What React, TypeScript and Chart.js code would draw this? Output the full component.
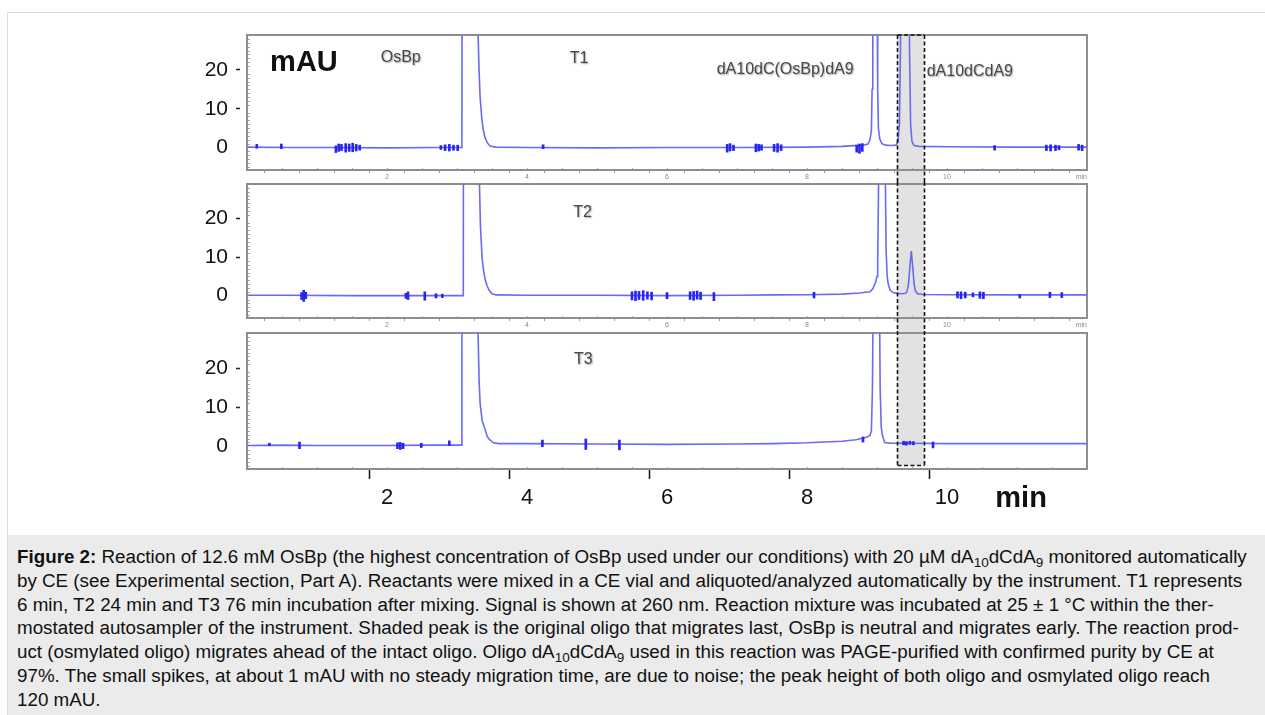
import React, { useEffect, useRef } from 'react';
import { Chart, registerables } from 'chart.js';

Chart.register(...registerables);

// ---------- axes ----------
const X_MIN = 0;
const X_MAX = 12;
const Y_MIN = -5.8;
const Y_MAX = 29;
const Y_TICKS = [0, 10, 20];
const X_TICKS = [0.5, 1, 1.5, 2, 2.5, 3, 3.5, 4, 4.5, 5, 5.5, 6, 6.5, 7, 7.5, 8, 8.5, 9, 9.5, 10, 10.5, 11, 11.5, 12];
const X_MAJOR_TICKS = [2, 4, 6, 8, 10];
const X_END_LABEL = 'min';
const Y_MINOR_TICKS = [-5, -4, -3, -2, -1, 1, 2, 3, 4, 5, 6, 7, 8, 9, 11, 12, 13, 14, 15, 16, 17, 18, 19, 21, 22, 23, 24, 25, 26, 27, 28];

// shaded (intact oligo) window, minutes; bottom in mAU of the last panel
const SHADED_RANGE = [9.29, 9.67];
const SHADED_BOTTOM = -4.9;

// ---------- traces [min, mAU] ----------
const T1_TRACE: [number, number][] = [
  [0, 0.1], [0.6, 0.0], [1.2, 0.0], [2.0, -0.1], [2.7, 0.0], [3.07, 0.0], [3.08, 200], [3.28, 200],
  [3.29, 60], [3.30, 30], [3.315, 20], [3.33, 13], [3.353, 7.7], [3.375, 4.5], [3.40, 2.6], [3.43, 1.3],
  [3.47, 0.4], [3.55, 0.1], [4.0, 0.0], [5.0, -0.1], [6.0, 0.0], [7.0, 0.0], [8.0, 0.1], [8.5, 0.3],
  [8.8, 0.6], [8.87, 0.9], [8.90, 2.0], [8.92, 4.5], [8.93, 15], [8.94, 45], [8.97, 120], [9.0, 45],
  [9.01, 15], [9.02, 5], [9.04, 2.2], [9.07, 1.0], [9.12, 0.6], [9.2, 0.5], [9.27, 0.6], [9.30, 1.5],
  [9.32, 6], [9.335, 25], [9.35, 60], [9.40, 120], [9.45, 60], [9.465, 25], [9.48, 6], [9.50, 1.5],
  [9.53, 0.5], [9.6, 0.3], [10, 0.2], [11, 0.1], [12, 0.1],
];
const T2_TRACE: [number, number][] = [
  [0, 0.1], [0.5, 0.1], [1.5, 0.0], [2.5, 0.0], [3.09, 0.0], [3.10, 200], [3.30, 200], [3.31, 60],
  [3.32, 30], [3.335, 18], [3.36, 9.5], [3.38, 6.5], [3.40, 4.4], [3.43, 2.5], [3.46, 1.4], [3.50, 0.5],
  [3.56, 0.2], [4.0, 0.1], [5.0, 0.1], [6.0, 0.0], [7.0, 0.1], [7.5, 0.2], [8.0, 0.25], [8.5, 0.4],
  [8.75, 0.7], [8.9, 1.0], [8.94, 1.8], [8.98, 3.5], [9.0, 5], [9.01, 9], [9.02, 25], [9.03, 50],
  [9.07, 120], [9.11, 50], [9.12, 30], [9.13, 12], [9.145, 5], [9.16, 3], [9.19, 1.4], [9.23, 0.8],
  [9.28, 0.6], [9.35, 0.5], [9.41, 0.6], [9.43, 1.2], [9.45, 3], [9.47, 7.5], [9.49, 11.6], [9.51, 7.5],
  [9.53, 3], [9.55, 1.2], [9.58, 0.5], [9.65, 0.3], [10, 0.25], [11, 0.2], [12, 0.2],
];
const T3_TRACE: [number, number][] = [
  [0, 0.2], [0.5, 0.3], [1.0, 0.2], [2.0, 0.2], [2.6, 0.3], [3.06, 0.3], [3.07, 200], [3.28, 200],
  [3.29, 60], [3.30, 30], [3.315, 17], [3.33, 11], [3.36, 6.5], [3.40, 4.4], [3.43, 2.6], [3.46, 1.8],
  [3.52, 0.9], [3.6, 0.7], [4.0, 0.7], [5.0, 0.6], [6.0, 0.5], [7.0, 0.6], [7.5, 0.7], [8.0, 0.9],
  [8.5, 1.3], [8.7, 1.7], [8.85, 2.3], [8.9, 2.8], [8.92, 4], [8.935, 15], [8.95, 50], [8.99, 120],
  [9.03, 50], [9.045, 15], [9.06, 5], [9.08, 2.6], [9.11, 1.0], [9.2, 0.8], [9.5, 0.8], [10, 0.7],
  [11, 0.7], [12, 0.7],
];

// ---------- noise spikes [min, low mAU, high mAU] ----------
const T1_NOISE: [number, number, number][] = [
  [0.14, -0.2, 0.8], [0.49, -0.3, 0.9], [1.27, -1.3, 0.4], [1.31, -1.0, 0.9], [1.35, -0.8, 0.8],
  [1.41, -1.2, 1.0], [1.46, -1.0, 0.9], [1.51, -1.1, 1.1], [1.56, -0.9, 0.8], [1.61, -0.7, 0.6],
  [2.77, -0.5, 0.5], [2.83, -0.8, 0.7], [2.89, -0.9, 0.8], [2.95, -0.7, 0.6], [3.01, -0.8, 0.6],
  [4.23, -0.3, 0.7], [6.86, -1.2, 0.8], [6.90, -0.9, 1.0], [6.95, -0.8, 0.6], [7.27, -1.1, 0.9],
  [7.31, -0.9, 0.8], [7.35, -0.7, 0.7], [7.53, -1.0, 0.8], [7.58, -1.2, 1.0], [7.63, -0.8, 0.7],
  [8.71, -1.2, 0.6], [8.75, -1.5, 0.9], [8.79, -1.0, 1.0], [10.68, -0.7, 0.5], [11.42, -0.8, 0.6],
  [11.48, -0.9, 0.7], [11.55, -0.8, 0.6], [11.60, -0.6, 0.5], [11.88, -0.7, 0.8], [11.93, -0.8, 0.6],
];
const T2_NOISE: [number, number, number][] = [
  [0.78, -1.0, 0.8], [0.81, -1.5, 1.4], [0.84, -0.8, 0.9], [2.27, -0.7, 0.6], [2.30, -1.0, 1.0],
  [2.54, -1.2, 1.0], [2.70, -0.6, 0.5], [2.79, -0.5, 0.4], [5.50, -1.1, 1.0], [5.55, -1.3, 1.2],
  [5.60, -1.0, 1.1], [5.66, -1.2, 1.3], [5.72, -0.9, 1.0], [5.78, -1.1, 0.9], [6.00, -0.8, 0.8],
  [6.33, -1.0, 1.0], [6.38, -1.2, 1.1], [6.43, -0.9, 1.2], [6.48, -1.0, 0.9], [6.67, -1.3, 0.8],
  [8.10, -0.6, 0.9], [10.15, -0.6, 1.0], [10.20, -0.8, 1.0], [10.26, -0.6, 0.9], [10.37, -0.3, 0.7],
  [10.47, -0.7, 1.0], [10.52, -0.8, 0.9], [11.04, -0.6, 0.3], [11.47, -0.5, 0.9], [11.64, -0.5, 0.8],
];
const T3_NOISE: [number, number, number][] = [
  [0.32, 0.2, 0.8], [0.75, -0.6, 1.1], [2.15, -0.6, 0.9], [2.19, -0.8, 1.0], [2.23, -0.6, 0.8],
  [2.49, -0.3, 0.8], [2.89, 0.2, 1.4], [4.22, -0.1, 1.6], [4.84, -0.8, 1.9], [5.32, -0.9, 1.6],
  [8.80, 1.1, 2.4], [9.38, 0.4, 1.3], [9.42, 0.3, 1.2], [9.47, 0.5, 1.3], [9.52, 0.4, 1.2], [9.80, -0.4, 1.1],
];

// ---------- in-plot labels [text, min, mAU] ----------
const P1_LABELS: [string, number, number][] = [
  ['OsBp', 1.91, 23.3], ['T1', 4.61, 23.0], ['dA10dC(OsBp)dA9', 6.71, 20.0], ['dA10dCdA9', 9.71, 19.5],
];
const P2_LABELS: [string, number, number][] = [['T2', 4.66, 21.5]];
const P3_LABELS: [string, number, number][] = [['T3', 4.67, 22.3]];
const Y_UNIT: [string, number, number] = ['mAU', 0.33, 21.8];
const X_UNIT: [string, number, number] = ['min', 10.69, -13.6];

const FONT = '"Liberation Sans", Arial, Helvetica, sans-serif';

const panelDecor = {
  id: 'panelDecor',
  beforeDatasetsDraw(chart: any, _args: any, opts: any) {
    const { ctx, chartArea: a, scales } = chart;
    const x = scales.x;
    const y = scales.y;
    const bx1 = x.getPixelForValue(SHADED_RANGE[0]);
    const bx2 = x.getPixelForValue(SHADED_RANGE[1]);
    const top = opts.boxTop ? a.top : 0;
    const bottom = opts.boxBottom ? y.getPixelForValue(SHADED_BOTTOM) : chart.height;
    ctx.save();
    ctx.fillStyle = '#e2e2e2';
    ctx.fillRect(bx1, top, bx2 - bx1, bottom - top);
    // minor ticks
    ctx.strokeStyle = '#a8a8a8';
    ctx.lineWidth = 1;
    ctx.beginPath();
    Y_MINOR_TICKS.forEach((v) => {
      const py = Math.round(y.getPixelForValue(v)) + 0.5;
      ctx.moveTo(a.left, py);
      ctx.lineTo(a.left + 3, py);
    });
    X_TICKS.forEach((v) => {
      const px = Math.round(x.getPixelForValue(v)) + 0.5;
      ctx.moveTo(px, a.bottom);
      ctx.lineTo(px, a.bottom - 2);
    });
    ctx.stroke();
    // frame
    ctx.strokeStyle = '#8e8e8e';
    ctx.lineWidth = 2;
    ctx.strokeRect(a.left, a.top, a.right - a.left, a.bottom - a.top);
    ctx.restore();
  },
  afterDatasetsDraw(chart: any, _args: any, opts: any) {
    const { ctx, chartArea: a, scales } = chart;
    const x = scales.x;
    const y = scales.y;
    const bx1 = Math.round(x.getPixelForValue(SHADED_RANGE[0])) + 0.5;
    const bx2 = Math.round(x.getPixelForValue(SHADED_RANGE[1])) + 0.5;
    const top = opts.boxTop ? a.top : 0;
    const bottom = opts.boxBottom ? y.getPixelForValue(SHADED_BOTTOM) : chart.height;
    ctx.save();
    ctx.strokeStyle = '#111';
    ctx.lineWidth = 1.6;
    ctx.setLineDash([4, 2.5]);
    ctx.beginPath();
    ctx.moveTo(bx1, top);
    ctx.lineTo(bx1, bottom);
    ctx.moveTo(bx2, top);
    ctx.lineTo(bx2, bottom);
    if (opts.boxTop) {
      ctx.moveTo(bx1, top);
      ctx.lineTo(bx2, top);
    }
    if (opts.boxBottom) {
      ctx.moveTo(bx1, bottom);
      ctx.lineTo(bx2, bottom);
    }
    ctx.stroke();
    ctx.setLineDash([]);
    // labels
    ctx.textBaseline = 'middle';
    ctx.textAlign = 'left';
    (opts.labels || []).forEach(([t, lx, ly]: [string, number, number]) => {
      ctx.save();
      ctx.font = `16px ${FONT}`;
      ctx.fillStyle = '#484848';
      ctx.shadowColor = 'rgba(0,0,0,0.35)';
      ctx.shadowBlur = 1.5;
      ctx.shadowOffsetX = 1;
      ctx.shadowOffsetY = 1;
      ctx.fillText(t, x.getPixelForValue(lx), y.getPixelForValue(ly));
      ctx.restore();
    });
    (opts.units || []).forEach(([t, lx, ly]: [string, number, number]) => {
      ctx.font = `bold 29px ${FONT}`;
      ctx.fillStyle = '#111';
      ctx.fillText(t, x.getPixelForValue(lx), y.getPixelForValue(ly));
    });
    ctx.restore();
  },
};

type PanelProps = {
  trace: [number, number][];
  noise: [number, number, number][];
  labels: [string, number, number][];
  units: [string, number, number][];
  top: number;
  height: number;
  padTop: number;
  xAxisHeight: number;
  big: boolean;
  boxTop: boolean;
  boxBottom: boolean;
};

const CANVAS_LEFT = 150;
const CANVAS_WIDTH = 960;

function Panel(p: PanelProps) {
  const ref = useRef<HTMLCanvasElement | null>(null);
  useEffect(() => {
    if (!ref.current) return;
    const chart = new Chart(ref.current, {
      type: 'line',
      data: {
        datasets: [
          {
            type: 'line',
            data: p.trace.map(([x, y]) => ({ x, y })),
            borderColor: '#6a6af4',
            borderWidth: 1.6,
            pointRadius: 0,
            tension: 0,
            order: 1,
          } as any,
          {
            type: 'bar',
            data: p.noise.map(([x, lo, hi]) => ({ x, y: [lo, hi] })),
            backgroundColor: '#2626ee',
            borderWidth: 0,
            barThickness: 2,
            order: 0,
          } as any,
        ],
      },
      options: {
        animation: false,
        responsive: false,
        events: [],
        layout: { autoPadding: false, padding: { left: 0, right: 23, top: p.padTop, bottom: 0 } },
        plugins: {
          legend: { display: false },
          tooltip: { enabled: false },
          panelDecor: { labels: p.labels, units: p.units, boxTop: p.boxTop, boxBottom: p.boxBottom },
        } as any,
        scales: {
          x: {
            type: 'linear',
            min: X_MIN,
            max: X_MAX,
            offset: false,
            afterBuildTicks: (s: any) => {
              s.ticks = X_TICKS.map((v) => ({ value: v }));
            },
            afterFit: (s: any) => {
              s.height = p.xAxisHeight;
              s.paddingLeft = 0;
              s.paddingRight = 0;
            },
            border: { display: false },
            grid: {
              drawOnChartArea: false,
              drawTicks: true,
              tickLength: p.big ? 10 : 3,
              tickWidth: p.big ? 1.5 : 1,
              tickColor: (c: any) =>
                p.big ? (X_MAJOR_TICKS.includes(c.tick?.value) ? '#111' : 'rgba(0,0,0,0)') : '#9a9a9a',
            },
            ticks: {
              autoSkip: false,
              maxRotation: 0,
              align: 'inner',
              padding: p.big ? 6 : 0,
              color: p.big ? '#111' : '#8a8a8a',
              font: { family: FONT, size: p.big ? 22 : 7 },
              callback: (v: any) => {
                if (X_MAJOR_TICKS.includes(v)) return String(v);
                if (!p.big && v === X_MAX) return X_END_LABEL;
                return '';
              },
            },
          },
          y: {
            type: 'linear',
            min: Y_MIN,
            max: Y_MAX,
            afterBuildTicks: (s: any) => {
              s.ticks = Y_TICKS.map((v) => ({ value: v }));
            },
            afterFit: (s: any) => {
              s.width = 97;
              s.paddingTop = 0;
              s.paddingBottom = 0;
            },
            border: { display: false },
            grid: {
              drawOnChartArea: false,
              drawTicks: true,
              tickLength: 11,
              tickWidth: 1.5,
              tickBorderDash: [4, 30],
              tickColor: (c: any) => (c.tick?.value === 0 ? 'rgba(0,0,0,0)' : '#222'),
            },
            ticks: {
              padding: 8,
              color: '#111',
              font: { family: FONT, size: 21 },
            },
          },
        },
      } as any,
      plugins: [panelDecor as any],
    });
    return () => chart.destroy();
  }, []);
  return (
    <canvas
      ref={ref}
      width={CANVAS_WIDTH}
      height={p.height}
      style={{ position: 'absolute', left: CANVAS_LEFT, top: p.top, width: CANVAS_WIDTH, height: p.height }}
    />
  );
}

const sub = (t: string) => <sub style={{ fontSize: '0.72em', lineHeight: 0, verticalAlign: '-0.3em' }}>{t}</sub>;

export default function App() {
  return (
    <div
      style={{
        position: 'absolute',
        left: 0,
        top: 0,
        width: 1265,
        height: 715,
        overflow: 'hidden',
        background: '#fff',
        fontFamily: FONT,
      }}
    >
      <div style={{ position: 'absolute', left: 7, top: 12, width: 1270, height: 720, border: '1px solid #dddddd' }} />
      <Panel trace={T1_TRACE} noise={T1_NOISE} labels={P1_LABELS} units={[Y_UNIT]} top={20} height={162} padTop={15} xAxisHeight={12} big={false} boxTop={true} boxBottom={false} />
      <Panel trace={T2_TRACE} noise={T2_NOISE} labels={P2_LABELS} units={[]} top={182} height={149} padTop={2} xAxisHeight={13} big={false} boxTop={false} boxBottom={false} />
      <Panel trace={T3_TRACE} noise={T3_NOISE} labels={P3_LABELS} units={[X_UNIT]} top={331} height={199} padTop={2} xAxisHeight={61} big={true} boxTop={false} boxBottom={true} />
      <div
        style={{
          position: 'absolute',
          left: 8,
          top: 535,
          width: 1257,
          height: 180,
          background: '#ebebeb',
          color: '#111',
          fontSize: 18.8,
          lineHeight: '23.8px',
          paddingTop: 10,
          paddingLeft: 9,
          boxSizing: 'border-box',
          whiteSpace: 'nowrap',
        }}
      >
        <b>Figure 2:</b> Reaction of 12.6 mM OsBp (the highest concentration of OsBp used under our conditions) with 20 µM dA{sub('10')}dCdA{sub('9')} monitored automatically
        <br />
        by CE (see Experimental section, Part A). Reactants were mixed in a CE vial and aliquoted/analyzed automatically by the instrument. T1 represents
        <br />
        6 min, T2 24 min and T3 76 min incubation after mixing. Signal is shown at 260 nm. Reaction mixture was incubated at 25 ± 1 °C within the ther-
        <br />
        mostated autosampler of the instrument. Shaded peak is the original oligo that migrates last, OsBp is neutral and migrates early. The reaction prod-
        <br />
        uct (osmylated oligo) migrates ahead of the intact oligo. Oligo dA{sub('10')}dCdA{sub('9')} used in this reaction was PAGE-purified with confirmed purity by CE at
        <br />
        97%. The small spikes, at about 1 mAU with no steady migration time, are due to noise; the peak height of both oligo and osmylated oligo reach
        <br />
        120 mAU.
      </div>
    </div>
  );
}
